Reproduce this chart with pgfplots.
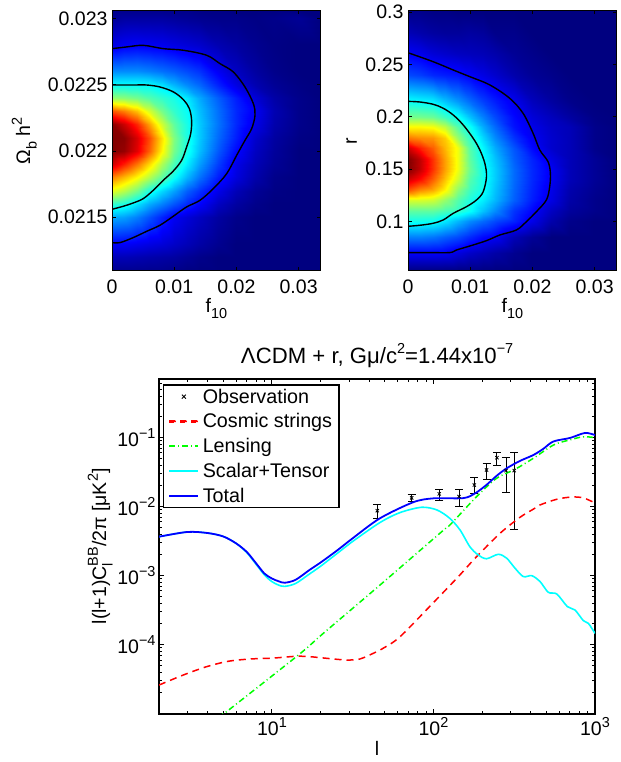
\documentclass[border=0pt]{standalone}
\usepackage{fontspec}
\setmainfont{Liberation Sans}
\usepackage{pgfplots}
\pgfplotsset{compat=1.18}
\definecolor{rr}{rgb}{1,0,0}
\definecolor{gg}{rgb}{0,1,0}
\definecolor{cc}{rgb}{0,1,1}
\definecolor{bb}{rgb}{0,0,1}
\newcommand\fs{\fontsize{19.6}{23}\selectfont}
\newcommand\ft{\fontsize{22.2}{25}\selectfont}
\newcommand\sm{\fontsize{14.5}{15}\selectfont}
\newcommand\tenp[1]{10\raisebox{.42em}{\sm #1}}
\newcommand\dn[1]{\raisebox{-.33em}{\sm #1}}
\newcommand\up[1]{\raisebox{.42em}{\sm #1}}
\newcommand\subsup[2]{\rlap{\dn{#1}}\up{#2}}
\pgfplotsset{
  colormap={myjet}{rgb=(0,0,0.5) rgb=(0,0,1) rgb=(0,0.5,1) rgb=(0,1,1) rgb=(0.5,1,0.5) rgb=(1,1,0) rgb=(1,0.5,0) rgb=(1,0,0) rgb=(0.5,0,0)},
  heat/.style={
    scale only axis, width=208.7bp, height=260bp, axis on top,
    axis line style={line width=1bp}, tick style={black,line width=0.7bp},
    tick align=inside, major tick length=3.5bp, minor tick length=0bp,
    xmin=0, xmax=0.03355, colormap name=myjet, point meta min=0.02, point meta max=0.94,
    xtick={0,0.01,0.02,0.03}, xticklabels={0,0.01,0.02,0.03},
    scaled ticks=false, ticklabel style={font=\fs},
    yticklabel style={xshift=-1bp}, xticklabel style={yshift=-5bp},
    label style={font=\fs},
    xlabel={f\dn{10}},
    xlabel style={yshift=2bp},
  },
  cont/.style={black,line width=1.4bp,smooth,tension=0.55,no markers},
}
\begin{document}
\begin{tikzpicture}[x=1bp,y=1bp]
\useasboundingbox (0,0) rectangle (621,762);
\begin{axis}[heat, at={(112bp,491bp)}, anchor=south west,
  ymin=0.021095, ymax=0.023055,
  ytick={0.0215,0.022,0.0225,0.023}, yticklabels={0.0215,0.022,0.0225,0.023},
  ylabel={Ω\dn{b} h\up{2}},
  ylabel style={at={(axis description cs:-0.42,0.5)},anchor=center}]
\addplot[surf,shader=interp,mesh/cols=14,point meta=explicit] table[row sep=\\,x=x,y=y,meta=v]{
x y v\\
0 .02109 .03\\.002 .02109 .03\\.004 .02109 .03\\.006 .02109 .03\\.008 .02109 .03\\.01 .02109 .025\\.012 .02109 .02\\.014 .02109 .015\\.017 .02109 .01\\.02 .02109 .01\\.023 .02109 .01\\.026 .02109 .01\\.03 .02109 .01\\.0336 .02109 .01\\
0 .0212 .07\\.002 .0212 .07\\.004 .0212 .065\\.006 .0212 .06\\.008 .0212 .055\\.01 .0212 .05\\.012 .0212 .04\\.014 .0212 .03\\.017 .0212 .02\\.02 .0212 .015\\.023 .0212 .01\\.026 .0212 .01\\.03 .0212 .01\\.0336 .0212 .01\\
0 .0213 .13\\.002 .0213 .13\\.004 .0213 .12\\.006 .0213 .11\\.008 .0213 .1\\.01 .0213 .085\\.012 .0213 .07\\.014 .0213 .055\\.017 .0213 .035\\.02 .0213 .02\\.023 .0213 .015\\.026 .0213 .01\\.03 .0213 .01\\.0336 .0213 .01\\
0 .0215 .29\\.002 .0215 .28\\.004 .0215 .25\\.006 .0215 .21\\.008 .0215 .165\\.01 .0215 .125\\.012 .0215 .1\\.014 .0215 .08\\.017 .0215 .05\\.02 .0215 .03\\.023 .0215 .02\\.026 .0215 .015\\.03 .0215 .01\\.0336 .0215 .01\\
0 .0216 .41\\.002 .0216 .39\\.004 .0216 .34\\.006 .0216 .29\\.008 .0216 .25\\.01 .0216 .21\\.012 .0216 .17\\.014 .0216 .135\\.017 .0216 .08\\.02 .0216 .05\\.023 .0216 .03\\.026 .0216 .02\\.03 .0216 .01\\.0336 .0216 .01\\
0 .0217 .57\\.002 .0217 .53\\.004 .0217 .47\\.006 .0217 .39\\.008 .0217 .33\\.01 .0217 .28\\.012 .0217 .22\\.014 .0217 .18\\.017 .0217 .115\\.02 .0217 .07\\.023 .0217 .04\\.026 .0217 .025\\.03 .0217 .015\\.0336 .0217 .01\\
0 .0218 .71\\.002 .0218 .66\\.004 .0218 .6\\.006 .0218 .53\\.008 .0218 .45\\.01 .0218 .375\\.012 .0218 .3\\.014 .0218 .24\\.017 .0218 .16\\.02 .0218 .105\\.023 .0218 .06\\.026 .0218 .03\\.03 .0218 .02\\.0336 .0218 .01\\
0 .0219 .87\\.002 .0219 .8\\.004 .0219 .72\\.006 .0219 .63\\.008 .0219 .52\\.01 .0219 .43\\.012 .0219 .35\\.014 .0219 .28\\.017 .0219 .19\\.02 .0219 .115\\.023 .0219 .07\\.026 .0219 .04\\.03 .0219 .02\\.0336 .0219 .015\\
0 .022 .96\\.002 .022 .92\\.004 .022 .85\\.006 .022 .74\\.008 .022 .6\\.01 .022 .47\\.012 .022 .385\\.014 .022 .31\\.017 .022 .215\\.02 .022 .14\\.023 .022 .08\\.026 .022 .045\\.03 .022 .02\\.0336 .022 .015\\
0 .0221 1\\.002 .0221 .93\\.004 .0221 .86\\.006 .0221 .76\\.008 .0221 .62\\.01 .0221 .48\\.012 .0221 .39\\.014 .0221 .32\\.017 .0221 .23\\.02 .0221 .16\\.023 .0221 .09\\.026 .0221 .05\\.03 .0221 .025\\.0336 .0221 .015\\
0 .0222 .93\\.002 .0222 .87\\.004 .0222 .79\\.006 .0222 .68\\.008 .0222 .55\\.01 .0222 .45\\.012 .0222 .385\\.014 .0222 .32\\.017 .0222 .24\\.02 .0222 .17\\.023 .0222 .115\\.026 .0222 .06\\.03 .0222 .03\\.0336 .0222 .015\\
0 .0223 .75\\.002 .0223 .71\\.004 .0223 .65\\.006 .0223 .56\\.008 .0223 .47\\.01 .0223 .41\\.012 .0223 .37\\.014 .0223 .31\\.017 .0223 .235\\.02 .0223 .17\\.023 .0223 .125\\.026 .0223 .065\\.03 .0223 .03\\.0336 .0223 .015\\
0 .0224 .5\\.002 .0224 .49\\.004 .0224 .47\\.006 .0224 .44\\.008 .0224 .41\\.01 .0224 .385\\.012 .0224 .345\\.014 .0224 .29\\.017 .0224 .22\\.02 .0224 .16\\.023 .0224 .1\\.026 .0224 .055\\.03 .0224 .03\\.0336 .0224 .02\\
0 .0225 .37\\.002 .0225 .37\\.004 .0225 .37\\.006 .0225 .365\\.008 .0225 .34\\.01 .0225 .3\\.012 .0225 .26\\.014 .0225 .23\\.017 .0225 .165\\.02 .0225 .11\\.023 .0225 .065\\.026 .0225 .04\\.03 .0225 .025\\.0336 .0225 .015\\
0 .0226 .26\\.002 .0226 .26\\.004 .0226 .26\\.006 .0226 .25\\.008 .0226 .235\\.01 .0226 .22\\.012 .0226 .2\\.014 .0226 .18\\.017 .0226 .125\\.02 .0226 .08\\.023 .0226 .05\\.026 .0226 .03\\.03 .0226 .02\\.0336 .0226 .015\\
0 .0228 .11\\.002 .0228 .125\\.004 .0228 .13\\.006 .0228 .125\\.008 .0228 .12\\.01 .0228 .11\\.012 .0228 .1\\.014 .0228 .09\\.017 .0228 .065\\.02 .0228 .05\\.023 .0228 .035\\.026 .0228 .025\\.03 .0228 .02\\.0336 .0228 .02\\
0 .0230 .04\\.002 .0230 .05\\.004 .0230 .05\\.006 .0230 .05\\.008 .0230 .05\\.01 .0230 .045\\.012 .0230 .04\\.014 .0230 .035\\.017 .0230 .03\\.02 .0230 .03\\.023 .0230 .025\\.026 .0230 .03\\.03 .0230 .04\\.0336 .0230 .02\\
0 .02306 .03\\.002 .02306 .03\\.004 .02306 .03\\.006 .02306 .03\\.008 .02306 .03\\.01 .02306 .03\\.012 .02306 .03\\.014 .02306 .025\\.017 .02306 .025\\.02 .02306 .02\\.023 .02306 .02\\.026 .02306 .02\\.03 .02306 .02\\.0336 .02306 .02\\
};
\addplot[cont] coordinates {(0,.02156)(.00182,.021583)(.00343,.021608)(.00504,.021641)(.00665,.021704)(.00825,.021779)(.00986,.021849)(.0112,.02193)(.012,.02203)(.01265,.02213)(.0128,.02223)(.01243,.02232)(.01147,.022387)(.00986,.022445)(.00772,.022482)(.00557,.022497)(.00343,.022497)(0,.022497)};
\addplot[cont] coordinates {(0,.021309)(.00129,.021309)(.00343,.021347)(.00557,.021394)(.00772,.02144)(.00986,.021508)(.012,.021578)(.01415,.021628)(.01629,.021716)(.01844,.021829)(.02004,.021967)(.02138,.02208)(.02245,.022168)(.02299,.022269)(.02272,.022357)(.02138,.022482)(.01951,.022595)(.01736,.022658)(.01522,.022721)(.01147,.022759)(.00825,.022771)(.00504,.022796)(.00236,.022784)(0,.022771)};
\end{axis}
\begin{axis}[heat, at={(408bp,491bp)}, anchor=south west,
  ymin=0.0525, ymax=0.301,
  ytick={0.1,0.15,0.2,0.25,0.3}, yticklabels={0.1,0.15,0.2,0.25,0.3},
  ylabel={r},
  ylabel style={at={(axis description cs:-0.27,0.5)},anchor=center}]
\addplot[surf,shader=interp,mesh/cols=14,point meta=explicit] table[row sep=\\,x=x,y=y,meta=v]{
x y v\\
0 .0525 .02\\.002 .0525 .02\\.004 .0525 .02\\.006 .0525 .02\\.008 .0525 .02\\.01 .0525 .02\\.012 .0525 .015\\.014 .0525 .015\\.017 .0525 .01\\.02 .0525 .01\\.023 .0525 .01\\.026 .0525 .01\\.03 .0525 .01\\.0336 .0525 .01\\
0 .07 .13\\.002 .07 .13\\.004 .07 .13\\.006 .07 .125\\.008 .07 .105\\.01 .07 .085\\.012 .07 .07\\.014 .07 .055\\.017 .07 .035\\.02 .07 .02\\.023 .07 .015\\.026 .07 .01\\.03 .07 .01\\.0336 .07 .01\\
0 .085 .25\\.002 .085 .25\\.004 .085 .24\\.006 .085 .22\\.008 .085 .2\\.01 .085 .17\\.012 .085 .14\\.014 .085 .125\\.017 .085 .07\\.02 .085 .04\\.023 .085 .02\\.026 .085 .015\\.03 .085 .01\\.0336 .085 .01\\
0 .1 .38\\.002 .1 .38\\.004 .1 .375\\.006 .1 .345\\.008 .1 .3\\.01 .1 .26\\.012 .1 .23\\.014 .1 .2\\.017 .1 .165\\.02 .1 .115\\.023 .1 .06\\.026 .1 .03\\.03 .1 .02\\.0336 .1 .01\\
0 .11 .45\\.002 .11 .45\\.004 .11 .45\\.006 .11 .43\\.008 .11 .41\\.01 .11 .37\\.012 .11 .31\\.014 .11 .26\\.017 .11 .18\\.02 .11 .135\\.023 .11 .08\\.026 .11 .045\\.03 .11 .03\\.0336 .11 .015\\
0 .12 .56\\.002 .12 .56\\.004 .12 .55\\.006 .12 .5\\.008 .12 .44\\.01 .12 .39\\.012 .12 .35\\.014 .12 .3\\.017 .12 .22\\.02 .12 .16\\.023 .12 .11\\.026 .12 .055\\.03 .12 .03\\.0336 .12 .02\\
0 .13 .75\\.002 .13 .7\\.004 .13 .67\\.006 .13 .6\\.008 .13 .49\\.01 .13 .42\\.012 .13 .375\\.014 .13 .31\\.017 .13 .225\\.02 .13 .165\\.023 .13 .115\\.026 .13 .06\\.03 .13 .035\\.0336 .13 .02\\
0 .14 .87\\.002 .14 .82\\.004 .14 .74\\.006 .14 .65\\.008 .14 .55\\.01 .14 .44\\.012 .14 .38\\.014 .14 .32\\.017 .14 .23\\.02 .14 .17\\.023 .14 .125\\.026 .14 .07\\.03 .14 .04\\.0336 .14 .02\\
0 .15 .97\\.002 .15 .88\\.004 .15 .78\\.006 .15 .68\\.008 .15 .58\\.01 .15 .46\\.012 .15 .38\\.014 .15 .32\\.017 .15 .23\\.02 .15 .17\\.023 .15 .125\\.026 .15 .07\\.03 .15 .04\\.0336 .15 .02\\
0 .16 1\\.002 .16 .88\\.004 .16 .78\\.006 .16 .68\\.008 .16 .58\\.01 .16 .45\\.012 .16 .37\\.014 .16 .31\\.017 .16 .22\\.02 .16 .165\\.023 .16 .11\\.026 .16 .07\\.03 .16 .04\\.0336 .16 .02\\
0 .17 .87\\.002 .17 .8\\.004 .17 .74\\.006 .17 .66\\.008 .17 .58\\.01 .17 .44\\.012 .17 .36\\.014 .17 .29\\.017 .17 .21\\.02 .17 .14\\.023 .17 .09\\.026 .17 .07\\.03 .17 .03\\.0336 .17 .015\\
0 .18 .72\\.002 .18 .7\\.004 .18 .69\\.006 .18 .64\\.008 .18 .5\\.01 .18 .41\\.012 .18 .33\\.014 .18 .26\\.017 .18 .18\\.02 .18 .125\\.023 .18 .09\\.026 .18 .07\\.03 .18 .03\\.0336 .18 .015\\
0 .19 .6\\.002 .19 .6\\.004 .19 .59\\.006 .19 .54\\.008 .19 .44\\.01 .19 .375\\.012 .19 .29\\.014 .19 .23\\.017 .19 .15\\.02 .19 .115\\.023 .19 .085\\.026 .19 .07\\.03 .19 .03\\.0336 .19 .015\\
0 .2 .47\\.002 .2 .47\\.004 .2 .46\\.006 .2 .42\\.008 .2 .375\\.01 .2 .31\\.012 .2 .25\\.014 .2 .2\\.017 .2 .14\\.02 .2 .1\\.023 .2 .075\\.026 .2 .05\\.03 .2 .025\\.0336 .2 .015\\
0 .215 .37\\.002 .215 .36\\.004 .215 .35\\.006 .215 .31\\.008 .215 .27\\.01 .215 .23\\.012 .215 .19\\.014 .215 .16\\.017 .215 .12\\.02 .215 .075\\.023 .215 .05\\.026 .215 .03\\.03 .215 .02\\.0336 .215 .01\\
0 .24 .2\\.002 .24 .19\\.004 .24 .17\\.006 .24 .16\\.008 .24 .15\\.01 .24 .13\\.012 .24 .11\\.014 .24 .09\\.017 .24 .06\\.02 .24 .04\\.023 .24 .03\\.026 .24 .02\\.03 .24 .015\\.0336 .24 .01\\
0 .26 .13\\.002 .26 .12\\.004 .26 .1\\.006 .26 .09\\.008 .26 .08\\.01 .26 .075\\.012 .26 .07\\.014 .26 .06\\.017 .26 .04\\.02 .26 .03\\.023 .26 .02\\.026 .26 .015\\.03 .26 .01\\.0336 .26 .01\\
0 .28 .07\\.002 .28 .06\\.004 .28 .05\\.006 .28 .045\\.008 .28 .045\\.01 .28 .05\\.012 .28 .045\\.014 .28 .03\\.017 .28 .03\\.02 .28 .02\\.023 .28 .015\\.026 .28 .015\\.03 .28 .01\\.0336 .28 .01\\
0 .301 .03\\.002 .301 .03\\.004 .301 .025\\.006 .301 .025\\.008 .301 .02\\.01 .301 .02\\.012 .301 .02\\.014 .301 .02\\.017 .301 .02\\.02 .301 .02\\.023 .301 .015\\.026 .301 .015\\.03 .301 .01\\.0336 .301 .01\\
};
\addplot[cont] coordinates {(0,.0952)(.00193,.0962)(.00406,.0981)(.00567,.1013)(.00727,.1076)(.00941,.114)(.01102,.1204)(.01209,.1283)(.01262,.1427)(.01235,.1554)(.01155,.1682)(.01048,.1793)(.00888,.192)(.00727,.2016)(.00567,.208)(.00406,.2118)(.00193,.214)(0,.2146)};
\addplot[cont] coordinates {(0,.0701)(.00353,.0701)(.00674,.0701)(.00781,.0726)(.00995,.0764)(.01262,.0815)(.01476,.0869)(.01743,.0917)(.01904,.0997)(.02064,.1092)(.02225,.1204)(.02278,.1331)(.02289,.1459)(.02251,.157)(.02118,.1682)(.02011,.1841)(.0185,.2032)(.01636,.2175)(.01316,.2303)(.00995,.2382)(.00727,.2446)(.00406,.2525)(0,.2611)};
\end{axis}
\begin{loglogaxis}[scale only axis, width=436bp, height=334.7bp,
  at={(159bp,48.3bp)}, anchor=south west,
  xmin=2, xmax=1000, ymin=1e-5, ymax=0.708,
  axis line style={line width=2.2bp}, tick style={black,line width=1bp},
  tick align=inside, major tick length=5bp, minor tick length=3bp,
  xtick={10,100,1000}, xticklabels={\tenp{1},\tenp{2},\tenp{3}},
  ytick={1e-4,1e-3,1e-2,1e-1}, yticklabels={\tenp{−4},\tenp{−3},\tenp{−2},\tenp{−1}},
  minor xtick={3,4,5,6,7,8,9,20,30,40,50,60,70,80,90,200,300,400,500,600,700,800,900},
  minor ytick={2e-5,3e-5,4e-5,5e-5,6e-5,7e-5,8e-5,9e-5,2e-4,3e-4,4e-4,5e-4,6e-4,7e-4,8e-4,9e-4,2e-3,3e-3,4e-3,5e-3,6e-3,7e-3,8e-3,9e-3,2e-2,3e-2,4e-2,5e-2,6e-2,7e-2,8e-2,9e-2,2e-1,3e-1,4e-1,5e-1,6e-1,7e-1},
  ticklabel style={font=\fs}, label style={font=\fs},
  title={Λ\hspace{.02em}CDM + r, Gμ/c\up{2}=1.44x10\up{−7}},
  title style={font=\ft, yshift=2bp},
  xlabel={l}, xlabel style={yshift=1bp},
  ylabel={l(l+1)C\subsup{l}{BB}/2π [μK\up{2}]},
  ylabel style={at={(axis description cs:-0.135,0.5)},anchor=center},
  legend style={at={(0.0085,0.985)},anchor=north west,draw=black,line width=1.5bp,
    font=\fontsize{19.8}{22}\selectfont,legend cell align=left,inner xsep=5bp,inner ysep=2bp,
    row sep=5bp,column sep=1.5bp},
  legend cell align=left,
]
\addplot[only marks,mark=x,mark size=2.3bp,black,mark options={line width=0.8bp},
  legend image code/.code={\draw[black,line width=0.8bp] (12.5bp,-2bp)--(16.5bp,2bp) (12.5bp,2bp)--(16.5bp,-2bp);},
  error bars/.cd,y dir=both,y explicit,error bar style={black,line width=0.9bp},
  error mark options={rotate=90,mark size=4bp,line width=0.9bp,black}]
 coordinates {
 (44.9,8.75e-3) += (0,1.85e-3) -= (0,1.96e-3)
 (73.3,1.34e-2) += (0,1.7e-3) -= (0,1.6e-3)
 (108.6,1.53e-2) += (0,2.3e-3) -= (0,2.8e-3)
 (144,1.40e-2) += (0,3.6e-3) -= (0,3.8e-3)
 (179,2.06e-2) += (0,5.7e-3) -= (0,5.3e-3)
 (213,3.40e-2) += (0,8e-3) -= (0,8.8e-3)
 (247,5.13e-2) += (0,1.07e-2) -= (0,1.15e-2)
 (281,3.33e-2) += (0,1.8e-2) -= (0,1.71e-2)
 (316,3.33e-2) += (0,2.81e-2) -= (0,2.86e-2)
 };
\addlegendentry{Observation}
\addplot[rr,line width=1.5bp,smooth,dash pattern=on 7bp off 5bp,no markers,
  legend image code/.code={\fill[rr] (0bp,-0.8bp) rectangle (6.5bp,0.8bp) (11bp,-0.8bp) rectangle (17.5bp,0.8bp) (22bp,-0.8bp) rectangle (28.5bp,0.8bp);}] coordinates {
(2,2.6e-5)(2.83,3.64e-5)(3.94,4.8e-5)(5.37,5.75e-5)(7.3,6.2e-5)(10.2,6.4e-5)(14.2,6.8e-5)(17.2,6.7e-5)(21.8,6.35e-5)(29,6e-5)(35,6.2e-5)(42.4,7.5e-5)(48.9,8.9e-5)(62,1.3e-4)(99.8,4.06e-4)(142.6,9.7e-4)(181,1.79e-3)(258,4.1e-3)(343,7e-3)(415,9.2e-3)(457,1.06e-2)(580,1.28e-2)(717,1.38e-2)(847,1.34e-2)(1000,1.13e-2)};
\addlegendentry{Cosmic strings}
\addplot[gg,line width=1.5bp,smooth,dash pattern=on 6bp off 3bp on 1bp off 3bp,no markers,
  legend image code/.code={\draw[gg,line width=1.5bp,dash pattern=on 6bp off 3bp on 1bp off 3bp] (0bp,0bp)--(29bp,0bp);}] coordinates {
(5,1e-5)(5.24,1.07e-5)(14.6,7.1e-5)(20.8,1.46e-4)(46.7,7.33e-4)(112.5,4.34e-3)(126.5,5.43e-3)(185,1.4e-2)(246,2.58e-2)(320,3.48e-2)(415,5.02e-2)(552,7.8e-2)(700,9.3e-2)(847,1.03e-1)(1000,1e-1)};
\addlegendentry{Lensing}
\addplot[cc,line width=1.6bp,smooth,no markers,
  legend image code/.code={\draw[cc,line width=1.6bp] (0bp,0bp)--(29bp,0bp);}] coordinates {
(2,3.67e-3)(3,4.3e-3)(4,4.15e-3)(5,3.7e-3)(6,2.94e-3)(7,2.15e-3)(8,1.45e-3)(9,1.02e-3)(10,8.2e-4)(11,7.3e-4)(12,7e-4)(14,7.7e-4)(17,1.05e-3)(20,1.37e-3)(25,2.05e-3)(32,3.2e-3)(46.7,5.9e-3)(62,8.2e-3)(84.5,9.8e-3)(105,8.96e-3)(126,6.8e-3)(146,4.6e-3)(168,2.63e-3)(189,2e-3)(213,1.76e-3)(252,2.04e-3)(284,1.79e-3)(320,1.28e-3)(360,9.7e-4)(406,1e-3)(457,8.2e-4)(514,5.74e-4)(580,5.43e-4)(675,3.56e-4)(752,3.18e-4)(847,2.23e-4)(909,2.04e-4)(1000,1.46e-4)};
\addlegendentry{Scalar+Tensor}
\addplot[bb,line width=1.8bp,smooth,no markers,
  legend image code/.code={\draw[bb,line width=1.8bp] (0bp,0bp)--(29bp,0bp);}] coordinates {
(2,3.67e-3)(3,4.3e-3)(4,4.15e-3)(5,3.7e-3)(6,2.94e-3)(7,2.2e-3)(8,1.5e-3)(9,1.07e-3)(10,9.1e-4)(11,8.3e-4)(12,7.9e-4)(14,8.7e-4)(17,1.2e-3)(20,1.55e-3)(25.2,2.3e-3)(32,3.56e-3)(46.7,6.8e-3)(75,1.16e-2)(100,1.32e-2)(153,1.33e-2)(181,1.56e-2)(213,2.07e-2)(246,2.8e-2)(284,3.6e-2)(343,4.6e-2)(415,5.6e-2)(479,6.9e-2)(552,8.8e-2)(700,9.9e-2)(867,1.17e-1)(1000,1.09e-1)};
\addlegendentry{Total}
\end{loglogaxis}
\end{tikzpicture}
\end{document}
